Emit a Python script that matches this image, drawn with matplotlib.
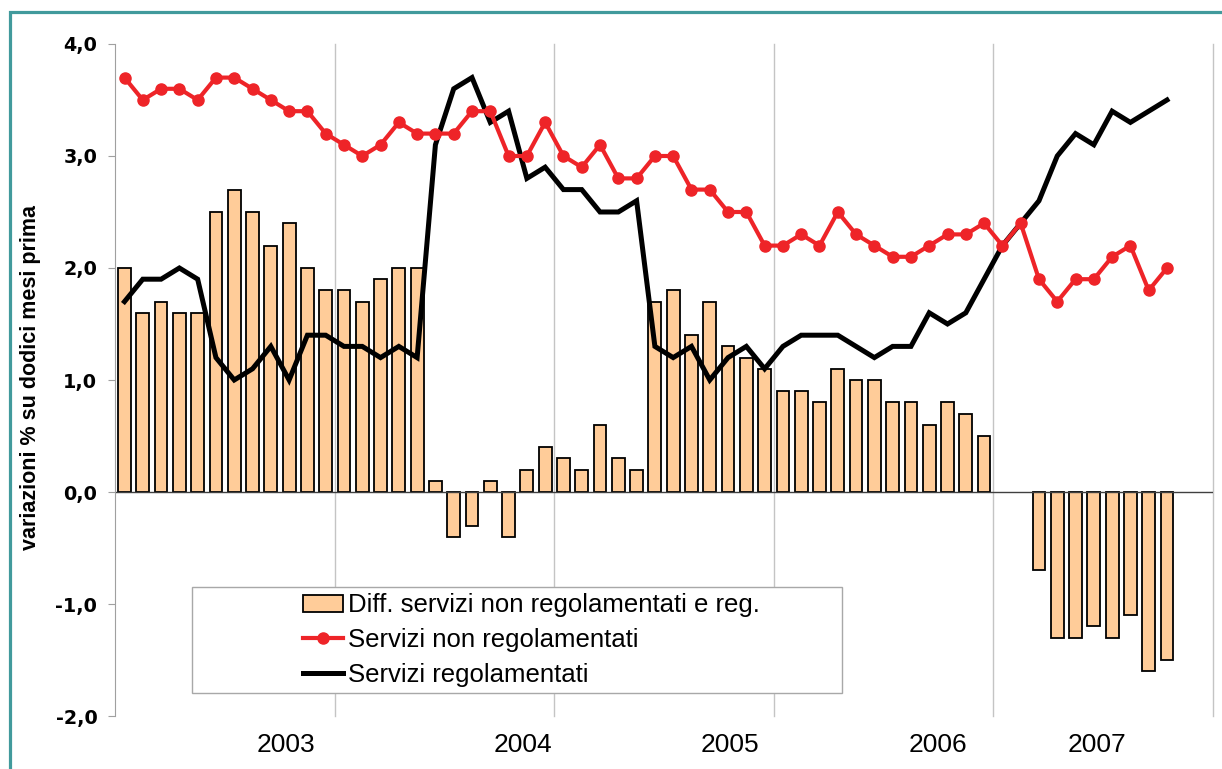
import numpy as np
import matplotlib
matplotlib.use("Agg")
import matplotlib.pyplot as plt
from matplotlib.patches import Rectangle

# valori mensili, gen 2003 - ott 2007
non_reg = [3.7, 3.5, 3.6, 3.6, 3.5, 3.7, 3.7, 3.6, 3.5, 3.4, 3.4, 3.2,
           3.1, 3.0, 3.1, 3.3, 3.2, 3.2, 3.2, 3.4, 3.4, 3.0, 3.0, 3.3,
           3.0, 2.9, 3.1, 2.8, 2.8, 3.0, 3.0, 2.7, 2.7, 2.5, 2.5, 2.2,
           2.2, 2.3, 2.2, 2.5, 2.3, 2.2, 2.1, 2.1, 2.2, 2.3, 2.3, 2.4,
           2.2, 2.4, 1.9, 1.7, 1.9, 1.9, 2.1, 2.2, 1.8, 2.0]
reg = [1.7, 1.9, 1.9, 2.0, 1.9, 1.2, 1.0, 1.1, 1.3, 1.0, 1.4, 1.4,
       1.3, 1.3, 1.2, 1.3, 1.2, 3.1, 3.6, 3.7, 3.3, 3.4, 2.8, 2.9,
       2.7, 2.7, 2.5, 2.5, 2.6, 1.3, 1.2, 1.3, 1.0, 1.2, 1.3, 1.1,
       1.3, 1.4, 1.4, 1.4, 1.3, 1.2, 1.3, 1.3, 1.6, 1.5, 1.6, 1.9,
       2.2, 2.4, 2.6, 3.0, 3.2, 3.1, 3.4, 3.3, 3.4, 3.5]
diff = [2.0, 1.6, 1.7, 1.6, 1.6, 2.5, 2.7, 2.5, 2.2, 2.4, 2.0, 1.8,
        1.8, 1.7, 1.9, 2.0, 2.0, 0.1, -0.4, -0.3, 0.1, -0.4, 0.2, 0.4,
        0.3, 0.2, 0.6, 0.3, 0.2, 1.7, 1.8, 1.4, 1.7, 1.3, 1.2, 1.1,
        0.9, 0.9, 0.8, 1.1, 1.0, 1.0, 0.8, 0.8, 0.6, 0.8, 0.7, 0.5,
        np.nan, np.nan, -0.7, -1.3, -1.3, -1.2, -1.3, -1.1, -1.6, -1.5]
years = ["2003", "2004", "2005", "2006", "2007"]
year_label_pos = [8.8, 21.8, 33.1, 44.5, 53.2]
year_bounds = [11.5, 23.5, 35.5, 47.5, 59.5]

font = "Liberation Sans"

fig = plt.figure(figsize=(12.22, 7.69), dpi=100)
ax = fig.add_axes([0.0944, 0.0689, 0.898, 0.8739])
x = np.arange(len(non_reg))

for b in year_bounds:
    ax.axvline(b, color="#C4C4C4", lw=1, zorder=1, clip_on=False)

bars = ax.bar(x, diff, width=0.7, color="#FFCC99", edgecolor="black",
              linewidth=1.3, zorder=2)
ax.axhline(0, color="#404040", lw=1, zorder=2.5)
l_reg, = ax.plot(x, reg, color="black", lw=3.6, zorder=3,
                 solid_joinstyle="miter")
l_non, = ax.plot(x, non_reg, color="#EE2428", lw=3, marker="o", ms=8,
                 zorder=4)

ax.set_xlim(-0.5, 59.5)
ax.set_ylim(-2, 4)
yt = np.arange(-2, 4.01, 1)
ax.set_yticks(yt)
ax.set_yticklabels([f"{v:.1f}".replace(".", ",") for v in yt],
                   family="DejaVu Sans", fontweight="bold", fontsize=13.8)
ax.tick_params(axis="y", length=5, color="#A0A0A0", pad=8)
ax.set_xticks(year_label_pos)
ax.set_xticklabels(years, family=font, fontsize=19)
ax.tick_params(axis="x", length=0, pad=12)
for s in ["top", "right", "bottom"]:
    ax.spines[s].set_visible(False)
ax.spines["left"].set_color("#A0A0A0")

# riquadro della legenda
ax.add_patch(Rectangle((0.0698, 0.0342), 0.5922, 0.1578,
                       transform=ax.transAxes, facecolor="white",
                       edgecolor="#A8A8A8", lw=1, zorder=5))
leg = ax.legend([bars, l_non, l_reg],
                ["Diff. servizi non regolamentati e reg.",
                 "Servizi non regolamentati", "Servizi regolamentati"],
                loc="center left", bbox_to_anchor=(0.171, 0.113),
                frameon=False, prop={"family": font, "size": 18.5},
                handlelength=1.55, handletextpad=0.22, labelspacing=0.42,
                handleheight=0.65, borderpad=0, borderaxespad=0)
leg.set_zorder(6)

fig.text(31 / 1222, 1 - 378 / 769, "variazioni % su dodici mesi prima",
         rotation=90, ha="center", va="center", family=font,
         fontweight="bold", fontsize=15.5)

fig.patches.append(Rectangle((9.5 / 1222, -0.5), 2, 0.5 + (1 - 11.5 / 769),
                             transform=fig.transFigure, fill=False,
                             edgecolor="#419A9C", lw=2.3))

fig.savefig("out.png", dpi=100)
